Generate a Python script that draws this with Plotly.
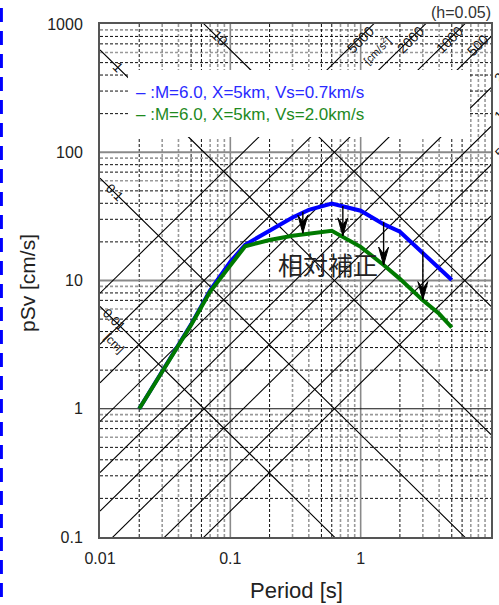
import numpy as np
import plotly.graph_objects as go

# ---------------- data ----------------
period_vs07 = [0.02, 0.03, 0.05, 0.07, 0.1, 0.13, 0.2, 0.3, 0.4, 0.6, 1.0, 1.5, 2.0, 3.0, 4.0, 5.0]
psv_vs07 = [1.0, 1.95, 4.55, 8.4, 14.0, 19.0, 24.6, 31.0, 35.5, 39.8, 35.0, 27.5, 24.0, 16.3, 12.6, 10.1]
period_vs20 = [0.02, 0.03, 0.05, 0.07, 0.1, 0.13, 0.2, 0.3, 0.6, 1.0, 1.5, 2.0, 3.0, 4.0, 5.0]
psv_vs20 = [1.0, 1.95, 4.5, 8.2, 13.3, 18.5, 20.7, 22.3, 24.4, 18.3, 13.2, 10.3, 7.0, 5.5, 4.3]

arrow_period = [0.36, 0.73, 1.5, 3.0]
arrow_from = [34.4, 38.1, 28.7, 16.8]
arrow_to = [23.4, 22.3, 13.2, 7.1]

disp_lines_cm = [0.01, 0.1, 1, 10]
acc_lines = [10, 20, 50, 100, 200, 500, 1000, 2000, 5000]

x_tickvals = [0.01, 0.1, 1, 10]
x_ticktext = ["0.01", "0.1", "1", "10"]
y_tickvals = [0.1, 1, 10, 100, 1000]
y_ticktext = ["0.1", "1", "10", "100", "1000"]

legend_1 = "M=6.0, X=5km, Vs=0.7km/s"
legend_2 = "M=6.0, X=5km, Vs=2.0km/s"

# ---------------- layout geometry ----------------
W, H = 499, 605
PL, PR, PT, PB = 100, 491, 24, 537
XR = [-2, 1]
YR = [-1, 3]


def px(xp):
    return (xp - PL) / (PR - PL)


def py(yp):
    return (PB - yp) / (PB - PT)


fig = go.Figure()

BLACK_DASH = dict(color="rgba(0,0,0,0.95)", width=1, dash="3px,2px")
GRAY_DASH = dict(color="rgba(0,0,0,0.4)", width=1.6, dash="3px,2px")


def vlines(vals, line):
    xs, ys = [], []
    for v in vals:
        xs += [v, v, None]
        ys += [0.1, 1000, None]
    fig.add_trace(go.Scatter(x=xs, y=ys, mode="lines", line=line,
                             hoverinfo="skip", showlegend=False))


def hlines(vals, line):
    xs, ys = [], []
    for v in vals:
        xs += [0.01, 10, None]
        ys += [v, v, None]
    fig.add_trace(go.Scatter(x=xs, y=ys, mode="lines", line=line,
                             hoverinfo="skip", showlegend=False))


decs_x = [0.01, 0.1, 1]
decs_y = [0.1, 1, 10, 100]
v_black = [m * d for d in decs_x for m in (2, 5, 6)]
v_gray = [m * d for d in decs_x for m in (3, 4, 7, 8, 9)]
h_black = [m * d for d in decs_y for m in (2, 3, 4, 5, 7, 8)]
h_gray = [m * d for d in decs_y for m in (6, 9)]

vlines(v_gray, GRAY_DASH)
hlines(h_gray, GRAY_DASH)
vlines(v_black, BLACK_DASH)
hlines(h_black, BLACK_DASH)
vlines([0.1, 1], dict(color="#8a8a8a", width=1.6))
hlines([10, 100], dict(color="#8a8a8a", width=2))
hlines([1], dict(color="#111", width=1))

# tripartite diagonal lines
Tfine = np.logspace(-2, 1, 200)
for D in disp_lines_cm:
    fig.add_trace(go.Scatter(x=Tfine, y=2 * np.pi * D / Tfine, mode="lines",
                             line=dict(color="#000", width=1.1),
                             hoverinfo="skip", showlegend=False))
for A in acc_lines:
    fig.add_trace(go.Scatter(x=Tfine, y=A * Tfine / (2 * np.pi), mode="lines",
                             line=dict(color="#000", width=1.1),
                             hoverinfo="skip", showlegend=False))

# spectra
fig.add_trace(go.Scatter(x=period_vs07, y=psv_vs07, mode="lines",
                         line=dict(color="#0000ff", width=4), showlegend=False))
fig.add_trace(go.Scatter(x=period_vs20, y=psv_vs20, mode="lines",
                         line=dict(color="#007a00", width=4), showlegend=False))

# arrows (shaft + stealth head)
dlx = 1.0 / (PR - PL) * (XR[1] - XR[0])   # decades per pixel (x)
dly = 1.0 / (PB - PT) * (YR[1] - YR[0])   # decades per pixel (y)
for T, s0, s1 in zip(arrow_period, arrow_from, arrow_to):
    fig.add_trace(go.Scatter(x=[T, T], y=[s0, s1], mode="lines",
                             line=dict(color="black", width=1.4),
                             hoverinfo="skip", showlegend=False))
    lt, ls = np.log10(T), np.log10(s1)
    hx = [lt, lt - 5 * dlx, lt, lt + 5 * dlx, lt]
    hy = [ls, ls + 18 * dly, ls + 11 * dly, ls + 18 * dly, ls]
    fig.add_trace(go.Scatter(x=10 ** np.array(hx), y=10 ** np.array(hy), mode="lines",
                             fill="toself", fillcolor="black",
                             line=dict(color="black", width=1),
                             hoverinfo="skip", showlegend=False))

shapes = []
# legend white box
shapes.append(dict(type="rect", xref="paper", yref="paper",
                   x0=px(128), x1=px(470), y0=py(137), y1=py(70),
                   fillcolor="white", line=dict(width=0), layer="above"))
# dashed blue slide border on the left
shapes.append(dict(type="line", xref="paper", yref="paper",
                   x0=px(1.4), x1=px(1.4), y0=py(8), y1=py(610),
                   line=dict(color="#0000ff", width=3, dash="14px,9px")))

ann = []
FONT = "Liberation Sans, Arial, sans-serif"
legend_text = ("<span style='color:#2a2aff'>– :" + legend_1 + "</span><br>"
               "<span style='color:#1e8a1e'>– :" + legend_2 + "</span>")
ann.append(dict(xref="paper", yref="paper", x=px(134), y=py(103.5),
                xanchor="left", yanchor="middle", showarrow=False, align="left",
                text=legend_text, font=dict(family=FONT, size=17, color="#2a2aff")))
ann.append(dict(xref="paper", yref="paper", x=px(493), y=py(12),
                xanchor="right", yanchor="middle", showarrow=False,
                text="(h=0.05)", font=dict(family=FONT, size=16, color="#333")))
ann.append(dict(xref="paper", yref="paper", x=px(296), y=py(591),
                xanchor="center", yanchor="middle", showarrow=False,
                text="Period [s]", font=dict(family=FONT, size=22, color="#222")))
ann.append(dict(xref="paper", yref="paper", x=px(27), y=py(283), textangle=-90,
                xanchor="center", yanchor="middle", showarrow=False,
                text="pSv [cm/s]", font=dict(family=FONT, size=21, color="#222")))
ann.append(dict(xref="paper", yref="paper", x=px(328), y=py(264),
                xanchor="center", yanchor="middle", showarrow=False,
                text="相対補正", font=dict(family="Noto Sans CJK JP", size=25, color="#222")))

# diagonal line labels
def dlabel(x, y, text, angle, size=13):
    ann.append(dict(xref="paper", yref="paper", x=px(x), y=py(y), textangle=angle,
                    xanchor="center", yanchor="middle", showarrow=False,
                    text=text, font=dict(family=FONT, size=size, color="#111")))

dlabel(220, 38, "10", 45, 14)
dlabel(118, 67, "1", 45, 14)
dlabel(115, 192, "0.1", 45, 13)
dlabel(114, 319, "0.01", 45, 13)
dlabel(114, 343, "[cm]", 45, 12)
dlabel(360, 40, "5000", -45, 14)
dlabel(377, 50, "[cm/s<sup>2</sup>]", -45, 11)
dlabel(410, 40, "2000", -45, 14)
dlabel(449, 40, "1000", -45, 14)
dlabel(478, 45, "500", -45, 14)
dlabel(504, 72, "200", -45, 13)
dlabel(504, 110, "100", -45, 13)
dlabel(502, 150, "50", -45, 13)

fig.update_layout(
    width=W, height=H,
    margin=dict(l=PL, r=W - PR, t=PT, b=H - PB, pad=0, autoexpand=False),
    paper_bgcolor="white", plot_bgcolor="white",
    shapes=shapes, annotations=ann, showlegend=False,
    font=dict(family=FONT, size=16, color="#222"),
)
fig.update_xaxes(type="log", range=XR, tickvals=x_tickvals, ticktext=x_ticktext,
                 showgrid=False, zeroline=False, showline=True, mirror=True,
                 linecolor="#555", linewidth=2, ticks="", ticklabelstandoff=6,
                 automargin=False, tickfont=dict(size=16, color="#222"))
fig.update_yaxes(type="log", range=YR, tickvals=y_tickvals, ticktext=y_ticktext,
                 showgrid=False, zeroline=False, showline=True, mirror=True,
                 linecolor="#555", linewidth=2, ticks="", ticklabelstandoff=12,
                 automargin=False, tickfont=dict(size=16, color="#222"))

fig.write_html("out.html")
